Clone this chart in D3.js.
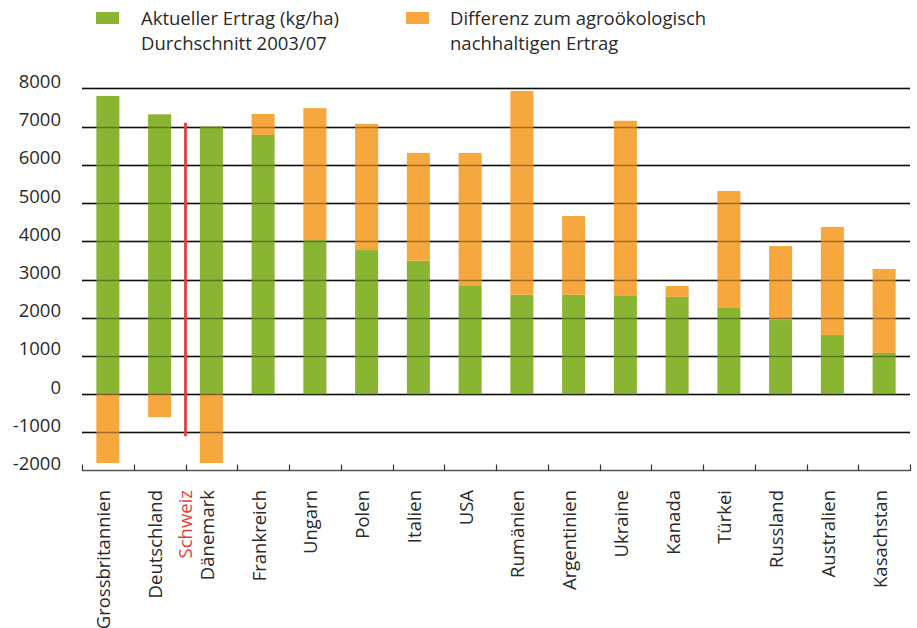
<!DOCTYPE html>
<html>
<head>
<meta charset="utf-8">
<script src="https://cdn.jsdelivr.net/npm/d3@7"></script>
<style>
  body { margin: 0; background: #fff; }
  text { font-family: "Open Sans", sans-serif; fill: #2a2a2a; }
</style>
</head>
<body>
<div id="chart"></div>
<script>
// categories and values (kg/ha)
var laender = ["Grossbritannien", "Deutschland", "Dänemark", "Frankreich", "Ungarn", "Polen",
  "Italien", "USA", "Rumänien", "Argentinien", "Ukraine", "Kanada", "Türkei", "Russland",
  "Australien", "Kasachstan"];
var aktuell = [7800, 7320, 7000, 6780, 4030, 3770, 3490, 2830, 2600, 2600, 2570, 2545, 2255, 1940, 1550, 1080];
var differenz = [-1800, -600, -1800, 550, 3450, 3300, 2820, 3480, 5330, 2060, 4580, 285, 3060, 1935, 2825, 2195];
var schweiz = { name: "Schweiz", aktuell: 7100, differenz: -1100, nach: "Deutschland" };
var yTicks = [8000, 7000, 6000, 5000, 4000, 3000, 2000, 1000, 0, -1000, -2000];
var legende = [
  { farbe: "#8ab533", zeilen: ["Aktueller Ertrag (kg/ha)", "Durchschnitt 2003/07"] },
  { farbe: "#f6a83f", zeilen: ["Differenz zum agroökologisch", "nachhaltigen Ertrag"] }
];

var width = 917, height = 628;
var svg = d3.select("#chart").append("svg")
    .attr("width", width)
    .attr("height", height);

var x = d3.scaleBand()
    .domain(laender)
    .range([82, 910])
    .paddingInner(0.555)
    .paddingOuter(0.2775);

var y = d3.scaleLinear()
    .domain([-2000, 8000])
    .range([470.7, 88.3]);

var grid = yTicks.filter(function(d) { return d > -2000; });

// gridlines
svg.append("g")
    .selectAll("line")
    .data(grid)
    .enter().append("line")
    .attr("x1", 82).attr("x2", 910)
    .attr("y1", function(d) { return Math.round(y(d)) + 0.5; })
    .attr("y2", function(d) { return Math.round(y(d)) + 0.5; })
    .attr("stroke", "#1a1a1a")
    .attr("stroke-width", 1.3);

// y labels
svg.append("g")
    .selectAll("text")
    .data(yTicks)
    .enter().append("text")
    .attr("x", 61)
    .attr("y", function(d) { return y(d) - 0.5; })
    .attr("text-anchor", "end")
    .attr("font-size", "18.5px")
    .text(function(d) { return d; });

var rows = laender.map(function(l, i) {
  return { land: l, aktuell: aktuell[i], differenz: differenz[i] };
});

// green bars
svg.append("g")
    .selectAll("rect")
    .data(rows)
    .enter().append("rect")
    .attr("x", function(d) { return x(d.land); })
    .attr("width", x.bandwidth())
    .attr("y", function(d) { return y(d.aktuell); })
    .attr("height", function(d) { return y(0) - y(d.aktuell); })
    .attr("fill", legende[0].farbe);

// orange bars: on top if positive, below zero if negative
svg.append("g")
    .selectAll("rect")
    .data(rows)
    .enter().append("rect")
    .attr("x", function(d) { return x(d.land); })
    .attr("width", x.bandwidth())
    .attr("y", function(d) {
      return d.differenz >= 0 ? y(d.aktuell + d.differenz) : y(0);
    })
    .attr("height", function(d) {
      return d.differenz >= 0 ? y(d.aktuell) - y(d.aktuell + d.differenz) : y(d.differenz) - y(0);
    })
    .attr("fill", legende[1].farbe);

// gridlines show faintly through the bars
svg.append("g")
    .selectAll("line")
    .data(grid)
    .enter().append("line")
    .attr("x1", 82).attr("x2", 910)
    .attr("y1", function(d) { return Math.round(y(d)) + 0.5; })
    .attr("y2", function(d) { return Math.round(y(d)) + 0.5; })
    .attr("stroke", "#000")
    .attr("stroke-opacity", 0.35)
    .attr("stroke-width", 1.3);

// Schweiz marker between Deutschland and Daenemark
var step = x.step();
var chX = x(schweiz.nach) + x.bandwidth() + (step - x.bandwidth()) / 2;
svg.append("line")
    .attr("x1", chX).attr("x2", chX)
    .attr("y1", y(schweiz.aktuell))
    .attr("y2", y(schweiz.differenz))
    .attr("stroke", "#e3403a")
    .attr("stroke-width", 2.8);

// bottom axis with inward ticks at band edges
var edges = d3.range(laender.length + 1).map(function(i) { return 82 + i * step; });
svg.append("line")
    .attr("x1", 82).attr("x2", 910)
    .attr("y1", 470.5).attr("y2", 470.5)
    .attr("stroke", "#555")
    .attr("stroke-width", 1.5);
svg.append("g")
    .selectAll("line")
    .data(edges)
    .enter().append("line")
    .attr("x1", function(d) { return Math.round(d) + 0.5; })
    .attr("x2", function(d) { return Math.round(d) + 0.5; })
    .attr("y1", 464.5).attr("y2", 471)
    .attr("stroke", "#333")
    .attr("stroke-width", 1.2);

// x labels, rotated
svg.append("g")
    .selectAll("text")
    .data(laender)
    .enter().append("text")
    .attr("transform", function(d) {
      return "translate(" + (x(d) + x.bandwidth() / 2 - 4) + ",490) rotate(-90)";
    })
    .attr("text-anchor", "end")
    .attr("dy", "0.35em")
    .attr("font-size", "18.5px")
    .text(function(d) { return d; });

svg.append("text")
    .attr("transform", "translate(" + chX + ",490) rotate(-90)")
    .attr("text-anchor", "end")
    .attr("dy", "0.35em")
    .attr("font-size", "18.5px")
    .style("fill", "#e3403a")
    .text(schweiz.name);

// legend
var legX = [96, 406], textX = [141, 450];
legende.forEach(function(l, i) {
  svg.append("rect")
      .attr("x", legX[i]).attr("y", 12)
      .attr("width", 23).attr("height", 12)
      .attr("fill", l.farbe);
  l.zeilen.forEach(function(z, j) {
    svg.append("text")
        .attr("x", textX[i])
        .attr("y", 25 + j * 25)
        .attr("font-size", "18.5px")
        .text(z);
  });
});
</script>
</body>
</html>
